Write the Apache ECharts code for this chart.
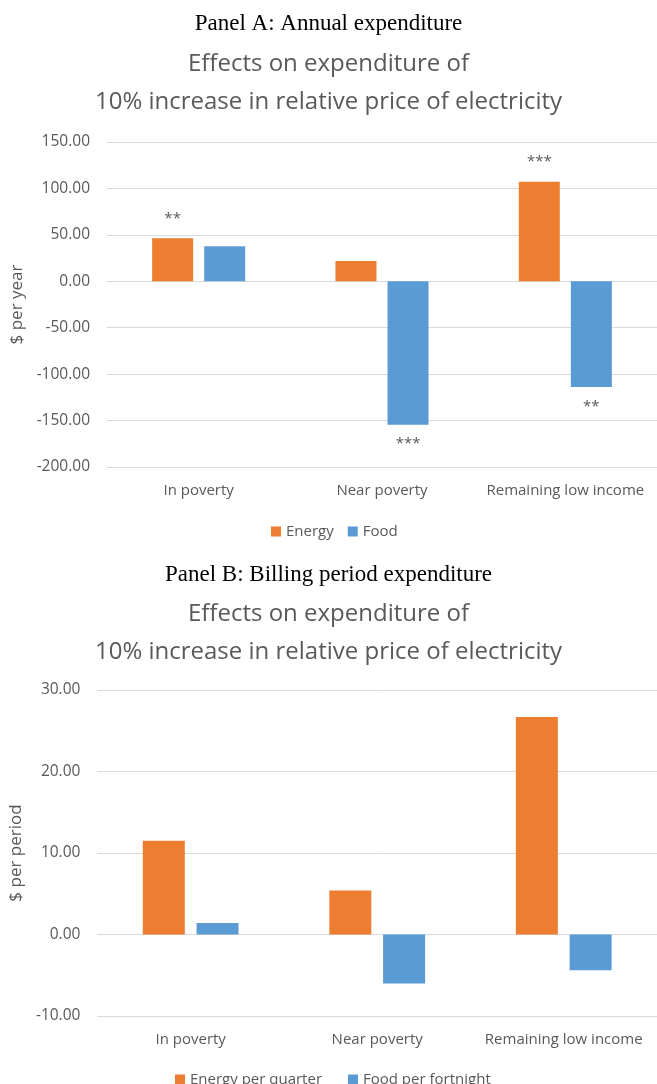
<!DOCTYPE html>
<html>
<head>
<meta charset="utf-8">
<script src="https://cdn.jsdelivr.net/npm/echarts@6/dist/echarts.min.js"></script>
<style>
  html, body { margin: 0; padding: 0; background: #fff; }
  #chart { width: 657px; height: 1084px; }
</style>
</head>
<body>
<div id="chart"></div>
<script>
// Household groups on the horizontal axis
const categories = ['In poverty', 'Near poverty', 'Remaining low income'];

// Panel A: annual expenditure effects ($ per year)
const annualEnergy = [46.3, 21.9, 107.3];
const annualFood = [37.7, -154.4, -113.8];
const annualEnergyStars = ['**', '', '***'];
const annualFoodStars = ['', '***', '**'];

// Panel B: billing period expenditure effects ($ per period)
const periodEnergy = [11.5, 5.4, 26.7];
const periodFood = [1.4, -6.0, -4.4];

const ORANGE = '#ED7D31';
const BLUE = '#5B9BD5';
const GREY = '#595959';
const GRID_LINE = '#D9D9D9';
const SANS = '"Open Sans", "Noto Sans", sans-serif';
const SERIF = '"Liberation Serif", "DejaVu Serif", serif';

function withStars(values, stars) {
  return values.map((v, i) => ({
    value: v,
    label: {
      show: !!stars[i],
      position: v >= 0 ? 'top' : 'bottom',
      distance: 12,
      formatter: () => stars[i],
      color: GREY,
      fontFamily: SANS,
      fontSize: 15
    }
  }));
}

function valueAxis(gridIndex, min, max, interval, name, nameGap) {
  return {
    type: 'value',
    gridIndex,
    min, max, interval,
    name,
    nameLocation: 'middle',
    nameGap,
    nameTextStyle: { color: GREY, fontFamily: SANS, fontSize: 17 },
    axisLine: { show: false },
    axisTick: { show: false },
    axisLabel: {
      color: GREY, fontFamily: SANS, fontSize: 15.5, margin: 17,
      formatter: v => v.toFixed(2)
    },
    splitLine: { lineStyle: { color: GRID_LINE, width: 1 } }
  };
}

function categoryAxis(gridIndex) {
  return {
    type: 'category',
    gridIndex,
    data: categories,
    axisLine: { onZero: true, lineStyle: { color: GRID_LINE } },
    axisTick: { show: false },
    axisLabel: {
      color: GREY, fontFamily: SANS, fontSize: 15, margin: 16,
      interval: 0
    },
    position: 'bottom'
  };
}

const chart = echarts.init(document.getElementById('chart'), null, { renderer: 'canvas' });

const option = {
  backgroundColor: '#ffffff',
  animation: false,
  title: [
    {
      text: 'Panel A: Annual expenditure',
      left: 'center', top: 7,
      textStyle: { fontFamily: SERIF, fontWeight: 'normal', fontSize: 23, color: '#000' }
    },
    {
      text: 'Effects on expenditure of\n10% increase in relative price of electricity',
      left: 'center', top: 40,
      textStyle: { fontFamily: SANS, fontWeight: 'normal', fontSize: 24, lineHeight: 38, color: GREY }
    },
    {
      text: 'Panel B: Billing period expenditure',
      left: 'center', top: 558,
      textStyle: { fontFamily: SERIF, fontWeight: 'normal', fontSize: 23, color: '#000' }
    },
    {
      text: 'Effects on expenditure of\n10% increase in relative price of electricity',
      left: 'center', top: 590,
      textStyle: { fontFamily: SANS, fontWeight: 'normal', fontSize: 24, lineHeight: 38, color: GREY }
    }
  ],
  legend: [
    {
      data: ['Energy', 'Food'],
      left: 266, top: 519,
      icon: 'rect', itemWidth: 10, itemHeight: 10, itemGap: 14,
      textStyle: { color: GREY, fontFamily: SANS, fontSize: 15 }
    },
    {
      data: ['Energy per quarter', 'Food per fortnight'],
      left: 170, top: 1067,
      icon: 'rect', itemWidth: 10, itemHeight: 10, itemGap: 26,
      textStyle: { color: GREY, fontFamily: SANS, fontSize: 15 }
    }
  ],
  grid: [
    { left: 107, top: 142, width: 551, height: 325 },
    { left: 97, top: 690, width: 562, height: 326 }
  ],
  xAxis: [categoryAxis(0), categoryAxis(1)],
  yAxis: [
    valueAxis(0, -200, 150, 50, '$ per year', 77),
    valueAxis(1, -10, 30, 10, '$ per period', 67)
  ],
  series: [
    {
      name: 'Energy', type: 'bar', xAxisIndex: 0, yAxisIndex: 0,
      data: withStars(annualEnergy, annualEnergyStars),
      barWidth: 41, barGap: '27%',
      itemStyle: { color: ORANGE }
    },
    {
      name: 'Food', type: 'bar', xAxisIndex: 0, yAxisIndex: 0,
      data: withStars(annualFood, annualFoodStars),
      barWidth: 41, barGap: '27%',
      itemStyle: { color: BLUE }
    },
    {
      name: 'Energy per quarter', type: 'bar', xAxisIndex: 1, yAxisIndex: 1,
      data: periodEnergy,
      barWidth: 42, barGap: '28%',
      itemStyle: { color: ORANGE }
    },
    {
      name: 'Food per fortnight', type: 'bar', xAxisIndex: 1, yAxisIndex: 1,
      data: periodFood,
      barWidth: 42, barGap: '28%',
      itemStyle: { color: BLUE }
    }
  ]
};

chart.setOption(option);
</script>
</body>
</html>
